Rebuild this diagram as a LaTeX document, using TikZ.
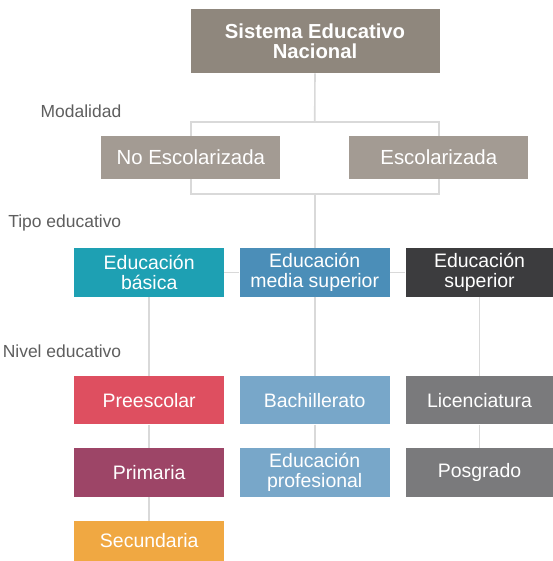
\documentclass[tikz,border=0pt]{standalone}
\usepackage{fontspec}
\setmainfont{Liberation Sans}
\definecolor{sengray}{HTML}{8F877D}
\definecolor{modgray}{HTML}{A39B93}
\definecolor{cbasica}{HTML}{1EA0B3}
\definecolor{cmedia}{HTML}{4B8EB8}
\definecolor{csuperior}{HTML}{3C3C3E}
\definecolor{cpre}{HTML}{DE4F60}
\definecolor{cprim}{HTML}{9D4567}
\definecolor{csec}{HTML}{F0A842}
\definecolor{cbach}{HTML}{78A7C9}
\definecolor{clic}{HTML}{7A7A7C}
\definecolor{cline}{HTML}{D9D9D9}
\definecolor{clabel}{HTML}{5E5E5E}
\tikzset{
  box/.style={inner sep=0pt, minimum width=150*0.75pt, minimum height=48.5*0.75pt,
    align=center, text=white, font=\fontsize{14.6}{14.5}\selectfont},
  conn/.style={draw=cline, line width=1.2pt},
  lvl/.style={anchor=east, text=clabel, inner sep=0pt, font=\fontsize{13.1}{13.1}\selectfont}
}
\begin{document}
\begin{tikzpicture}[x=0.75pt,y=-0.75pt]
\useasboundingbox (0,0) rectangle (553,561);
% bracket and trunk lines (behind boxes)
\coordinate (brTL) at (190.8,121.7);
\coordinate (brBR) at (438.8,194);
\coordinate (brTop) at (314.7,121.7);
\coordinate (brBot) at (314.7,194);
\draw[conn] (brTL) rectangle (brBR);

\node[box, fill=sengray, minimum width=249*0.75pt, minimum height=64*0.75pt,
  font=\bfseries\fontsize{15.2}{15}\selectfont] (sen) at (315,41.2) {Sistema Educativo\\Nacional};
\node[box, fill=modgray, minimum width=179*0.75pt, minimum height=43*0.75pt,
  font=\fontsize{15.3}{15}\selectfont] (noesc) at (190.8,157.5) {No Escolarizada};
\node[box, fill=modgray, minimum width=179*0.75pt, minimum height=43*0.75pt,
  font=\fontsize{15.3}{15}\selectfont] (esc) at (438.8,157.5) {Escolarizada};

\node[box, fill=cbasica] (basica) at (149.2,272.3) {Educación\\básica};
\node[box, fill=cmedia] (media) at (314.7,272.3) {Educación\\media superior};
\node[box, fill=csuperior, minimum width=148*0.75pt] (superior) at (479.5,272.3) {Educación\\superior};

\node[box, fill=cpre] (pre) at (149.2,400.2) {Preescolar};
\node[box, fill=cprim] (prim) at (149.2,472.3) {Primaria};
\node[box, fill=csec, minimum height=40*0.75pt] (sec) at (149.2,541) {Secundaria};

\node[box, fill=cbach] (bach) at (314.7,400.2) {Bachillerato};
\node[box, fill=cbach] (prof) at (314.7,472.3) {Educación\\profesional};

\node[box, fill=clic, minimum width=148*0.75pt] (lic) at (479.5,400.2) {Licenciatura};
\node[box, fill=clic, minimum width=148*0.75pt] (pos) at (479.5,472.3) {Posgrado};

% connectors
\draw[conn] (sen.south) -- (brTop);
\draw[conn] (brBot) -- (media.north);
\draw[conn] (basica.east) -- (media.west);
\draw[conn] (media.east) -- (superior.west);
\draw[conn] (basica.south) -- (pre.north);
\draw[conn] (pre.south) -- (prim.north);
\draw[conn] (prim.south) -- (sec.north);
\draw[conn] (media.south) -- (bach.north);
\draw[conn] (bach.south) -- (prof.north);
\draw[conn] (superior.south) -- (lic.north);
\draw[conn] (lic.south) -- (pos.north);

% level labels
\node[lvl] (lmod) at (121.5,111.7) {Modalidad};
\node[lvl] (ltipo) at (121.5,223) {Tipo educativo};
\node[lvl] (lnivel) at (121.5,351.7) {Nivel educativo};
\end{tikzpicture}
\end{document}
